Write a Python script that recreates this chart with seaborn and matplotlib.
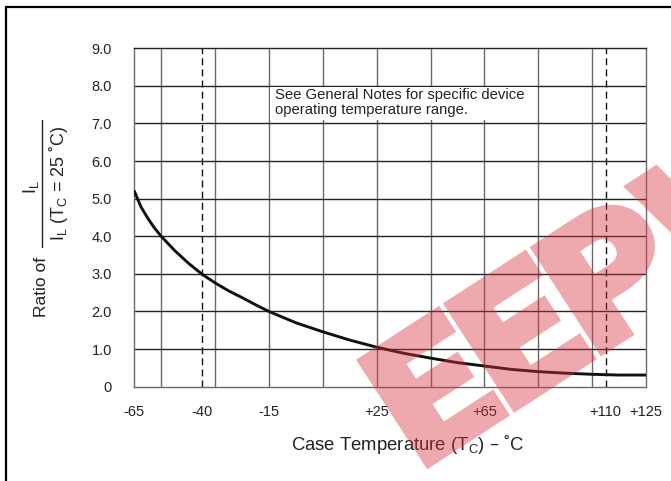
import matplotlib
matplotlib.use("Agg")
import matplotlib.pyplot as plt
from matplotlib.lines import Line2D
from matplotlib.patches import Rectangle, PathPatch
from matplotlib.textpath import TextPath
from matplotlib.font_manager import FontProperties
from matplotlib.transforms import Affine2D
import numpy as np
import seaborn as sns
import pandas as pd

# Leakage current ratio vs. case temperature
temps = [-65, -62.5, -60, -57.5, -55, -50, -45, -40, -35, -30, -25, -20, -15,
         -5, 5, 15, 25, 35, 45, 55, 65, 75, 85, 95, 105, 115, 125]
ratios = [5.2, 4.78, 4.48, 4.22, 4.0, 3.62, 3.29, 3.0, 2.76, 2.55, 2.37, 2.18, 2.0,
          1.7, 1.46, 1.24, 1.05, 0.89, 0.76, 0.64, 0.55, 0.46, 0.40, 0.36, 0.33,
          0.31, 0.31]

x_ticks = [-65, -40, -15, 25, 65, 110, 125]
x_tick_labels = ["-65", "-40", "-15", "+25", "+65", "+110", "+125"]
y_ticks = [0, 1, 2, 3, 4, 5, 6, 7, 8, 9]
y_tick_labels = ["0", "1.0", "2.0", "3.0", "4.0", "5.0", "6.0", "7.0", "8.0", "9.0"]
x_grid = [-55, -35, -15, 5, 25, 45, 65, 85, 105]
limit_temps = [-40, 110]

note = "See General Notes for specific device\noperating temperature range."

sns.set_style("white")
plt.rcParams["font.family"] = ["Liberation Sans", "DejaVu Sans"]
plt.rcParams["mathtext.default"] = "regular"

W, H = 671, 481
FIGSIZE = (W / 100 + 1e-4, H / 100 + 1e-4)
fig = plt.figure(figsize=FIGSIZE, dpi=100)
ax = fig.add_axes([134.3 / W, 1 - 386.7 / H, (646 - 134.3) / W, (386.7 - 48.3) / H])

df = pd.DataFrame({"temp": temps, "ratio": ratios})
sns.lineplot(data=df, x="temp", y="ratio", color="#111111", lw=2.1, ax=ax, zorder=4)

ax.set_xlim(-65, 125)
ax.set_ylim(0, 9)

# grid
for gx in x_grid:
    ax.axvline(gx, color="#6a6a6a", lw=1.0, zorder=1)
for gy in y_ticks[1:-1]:
    ax.axhline(gy, color="#222222", lw=1.0, zorder=1)
for lx in limit_temps:
    ax.axvline(lx, color="#111111", lw=1.0, ls=(0, (5, 3)), zorder=2)

for side in ["left", "right", "bottom"]:
    ax.spines[side].set_color("#6a6a6a")
    ax.spines[side].set_linewidth(1.0)
ax.spines["top"].set_color("#222222")
ax.spines["top"].set_linewidth(1.0)

ax.set_xticks(x_ticks)
ax.set_xticklabels(x_tick_labels)
ax.set_yticks(y_ticks)
ax.set_yticklabels(y_tick_labels)
ax.tick_params(axis="x", length=0, pad=13, labelsize=10.5, labelcolor="#222222")
ax.tick_params(axis="y", length=0, pad=16, labelsize=10.5, labelcolor="#222222")
ax.set_xlabel("")
ax.set_ylabel("")

# note box
ax.add_patch(Rectangle((-14.6, 7.08), 99.2, 0.89, facecolor="white",
                       edgecolor="none", zorder=3))
ax.text(-12.8, 7.55, note, fontsize=10.7, color="#222222", va="center",
        ha="left", linespacing=1.1, zorder=5)

# axis titles
fig.text(408 / W, 1 - 444 / H, r"Case Temperature (T$_C$) – ˚C", fontsize=13.3,
         color="#222222", ha="center", va="center")
fig.text(41 / W, 1 - 287 / H, "Ratio of", fontsize=12.5, color="#222222",
         rotation=90, ha="center", va="center")
fig.text(31 / W, 1 - 187 / H, r"I$_L$", fontsize=13, color="#222222",
         rotation=90, ha="center", va="center")
fig.text(58 / W, 1 - 183 / H, r"I$_L$ (T$_C$ = 25 ˚C)", fontsize=13,
         color="#222222", rotation=90, ha="center", va="center")
fig.add_artist(Line2D([42 / W, 42 / W], [1 - 120 / H, 1 - 247 / H],
                      transform=fig.transFigure, color="#222222", lw=1.0))

# page frame
fig.add_artist(Line2D([5.5 / W, 1.0], [1 - 7.5 / H, 1 - 7.5 / H],
                      transform=fig.transFigure, color="black", lw=1.6))
fig.add_artist(Line2D([5.5 / W, 5.5 / W], [1 - 7.5 / H, 0.0],
                      transform=fig.transFigure, color="black", lw=1.6))

# watermark: heavy lettering rendered to a coverage mask, then laid over
# the page as a uniform translucent tint
logo = TextPath((0, 0), "EEPW", size=1,
                prop=FontProperties(family="Roboto", weight=900))
logo_tf = Affine2D().scale(185, 172).rotate_deg(33).translate(420, 12)
mask_fig = plt.figure(figsize=FIGSIZE, dpi=100)
mask_fig.add_artist(PathPatch(logo, transform=logo_tf, facecolor="black",
                              edgecolor="black", lw=6, joinstyle="miter"))
mask_fig.canvas.draw()
cover = 1.0 - np.asarray(mask_fig.canvas.buffer_rgba())[..., 0] / 255.0
plt.close(mask_fig)
tint = np.zeros(cover.shape + (4,))
tint[..., 0], tint[..., 1], tint[..., 2] = 0.85, 0.2, 0.26
tint[..., 3] = 0.42 * cover
fig.figimage(tint, xo=0, yo=0, origin="upper", zorder=10)

fig.savefig("out.png", dpi=100)
